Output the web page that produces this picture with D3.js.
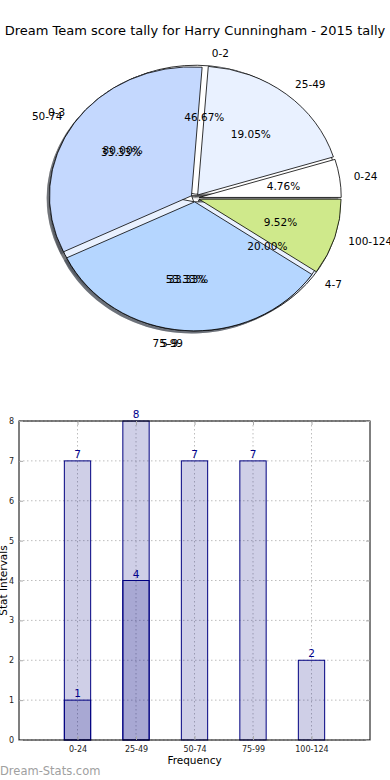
<!DOCTYPE html>
<html>
<head>
<meta charset="utf-8">
<script src="https://cdn.jsdelivr.net/npm/d3@7"></script>
<style>
  body { margin: 0; background: #fff; }
  svg { display: block; font-family: "DejaVu Sans", sans-serif; }
</style>
</head>
<body>
<svg id="chart" width="390" height="780"></svg>
<script>
// score pie (the coloured one on top)
const scoreLabels = ["0-24", "25-49", "50-74", "75-99", "100-124"];
const scoreValues = [1, 4, 7, 7, 2];
// two other pies drawn underneath
const pieBLabels = ["0-2", "5-9"];
const pieBValues = [7, 8];
const pieCLabels = ["0-3", "4-7"];
const pieCValues = [4, 1];
const pieColors = ["#ffffff", "#e9f1ff", "#c4d8fe", "#b5d6ff", "#cfe98b"];

// bar chart
const barCategories = ["0-24", "25-49", "50-74", "75-99", "100-124"];
const barTotals = [7, 8, 7, 7, 2];
const barSubset = [1, 4, 0, 0, 0];
const yTicks = [0, 1, 2, 3, 4, 5, 6, 7, 8];

const svg = d3.select("#chart");

svg.append("text")
  .attr("x", 195).attr("y", 35)
  .attr("text-anchor", "middle")
  .attr("font-size", 13)
  .text("Dream Team score tally for Harry Cunningham - 2015 tally");

//---------------- pies ----------------
const pc = {cx: 195, cy: 198, rx: 142, ry: 129, explode: 0.03};

const pieGen = d3.pie().sort(null)
  .startAngle(Math.PI / 2)
  .endAngle(Math.PI / 2 - 2 * Math.PI);
const arcGen = d3.arc().innerRadius(0).outerRadius(1);

function pieData(labels, values) {
  const total = d3.sum(values);
  return pieGen(values).map((d, i) => {
    const a = (d.startAngle + d.endAngle) / 2;
    return {arc: d, label: labels[i], pct: d.value / total * 100, color: pieColors[i],
      ux: Math.sin(a), uy: -Math.cos(a)};
  });
}

const pies = [pieData(pieCLabels, pieCValues), pieData(pieBLabels, pieBValues), pieData(scoreLabels, scoreValues)];

const shadowG = svg.append("g");
const wedgeG = svg.append("g");
const textG = svg.append("g");

pies.forEach(p => {
  p.forEach(d => {
    const ox = pc.cx + pc.explode * pc.rx * d.ux;
    const oy = pc.cy + pc.explode * pc.ry * d.uy;
    const c = d3.rgb(d.color);
    shadowG.append("path")
      .attr("d", arcGen(d.arc))
      .attr("transform", `translate(${ox - 0.02 * pc.rx},${oy + 0.02 * pc.ry}) scale(${pc.rx},${pc.ry})`)
      .attr("fill", d3.rgb(c.r * 0.3, c.g * 0.3, c.b * 0.3))
      .attr("fill-opacity", 0.5);
  });
});

pies.forEach(p => {
  const g = wedgeG.append("g");
  p.forEach(d => {
    const ox = pc.cx + pc.explode * pc.rx * d.ux;
    const oy = pc.cy + pc.explode * pc.ry * d.uy;
    g.append("path")
      .attr("d", arcGen(d.arc))
      .attr("transform", `translate(${ox},${oy}) scale(${pc.rx},${pc.ry})`)
      .attr("fill", d.color)
      .attr("stroke", "#000")
      .attr("stroke-width", 0.8)
      .attr("vector-effect", "non-scaling-stroke");
  });
});

pies.forEach(p => {
  p.forEach(d => {
    const ox = pc.cx + pc.explode * pc.rx * d.ux;
    const oy = pc.cy + pc.explode * pc.ry * d.uy;
    textG.append("text")
      .attr("x", ox + 1.1 * pc.rx * d.ux)
      .attr("y", oy + 1.1 * pc.ry * d.uy)
      .attr("text-anchor", d.ux > 0 ? "start" : "end")
      .attr("dominant-baseline", "central")
      .attr("font-size", 10.5)
      .text(d.label);
    textG.append("text")
      .attr("x", ox + 0.6 * pc.rx * d.ux)
      .attr("y", oy + 0.6 * pc.ry * d.uy)
      .attr("text-anchor", "middle")
      .attr("dominant-baseline", "central")
      .attr("font-size", 10.5)
      .text(d.pct.toFixed(2) + "%");
  });
});

//---------------- bars ----------------
const plot = {left: 19, right: 370, top: 421, bottom: 740};
const x = d3.scaleLinear().domain([0, barCategories.length + 1]).range([plot.left, plot.right]);
const y = d3.scaleLinear().domain([0, 8]).range([plot.bottom, plot.top]);
const bw = x(0.45) - x(0);

const bars = svg.append("g");

// grid
bars.selectAll(".hgrid").data(yTicks).enter().append("line")
  .attr("x1", plot.left).attr("x2", plot.right)
  .attr("y1", d => y(d)).attr("y2", d => y(d))
  .attr("stroke", "#bdbdbd").attr("stroke-dasharray", "1.5,2.5");
bars.selectAll(".vgrid").data(barCategories).enter().append("line")
  .attr("x1", (d, i) => x(i + 1)).attr("x2", (d, i) => x(i + 1))
  .attr("y1", plot.top).attr("y2", plot.bottom)
  .attr("stroke", "#bdbdbd").attr("stroke-dasharray", "1.5,2.5");

bars.selectAll(".total").data(barTotals).enter().append("rect")
  .attr("x", (d, i) => x(i + 1) - bw / 2)
  .attr("y", d => y(d))
  .attr("width", bw)
  .attr("height", d => y(0) - y(d))
  .attr("fill", "#000080").attr("fill-opacity", 0.19)
  .attr("stroke", "#000080").attr("stroke-width", 1);

const sub = barSubset.map((v, i) => ({v: v, i: i})).filter(d => d.v > 0);
bars.selectAll(".sub").data(sub).enter().append("rect")
  .attr("x", d => x(d.i + 1) - bw / 2)
  .attr("y", d => y(d.v))
  .attr("width", bw)
  .attr("height", d => y(0) - y(d.v))
  .attr("fill", "#000080").attr("fill-opacity", 0.19)
  .attr("stroke", "#000080").attr("stroke-width", 1);

// value labels
bars.selectAll(".lt").data(barTotals).enter().append("text")
  .attr("x", (d, i) => x(i + 1)).attr("y", d => y(d) - 3)
  .attr("text-anchor", "middle").attr("font-size", 10.5).attr("fill", "#00008b")
  .text(d => d);
bars.selectAll(".ls").data(sub).enter().append("text")
  .attr("x", d => x(d.i + 1)).attr("y", d => y(d.v) - 3)
  .attr("text-anchor", "middle").attr("font-size", 10.5).attr("fill", "#00008b")
  .text(d => d.v);

// frame
bars.append("rect")
  .attr("x", plot.left).attr("y", plot.top)
  .attr("width", plot.right - plot.left).attr("height", plot.bottom - plot.top)
  .attr("fill", "none").attr("stroke", "#000").attr("stroke-width", 1);

// axes
const yAxis = d3.axisLeft(y).tickValues(yTicks).tickSize(-4).tickPadding(5).tickFormat(d3.format("d"));
const yAxisEl = bars.append("g").attr("transform", `translate(${plot.left},0)`).call(yAxis);
const yRight = d3.axisRight(y).tickValues(yTicks).tickSize(-4).tickFormat("");
bars.append("g").attr("transform", `translate(${plot.right},0)`).call(yRight);

const xAxis = d3.axisBottom(x).tickValues(barCategories.map((d, i) => i + 1))
  .tickFormat((d, i) => barCategories[i]).tickSize(-4).tickPadding(6);
bars.append("g").attr("transform", `translate(0,${plot.bottom})`).call(xAxis);
const xTop = d3.axisTop(x).tickValues(barCategories.map((d, i) => i + 1)).tickSize(-4).tickFormat("");
bars.append("g").attr("transform", `translate(0,${plot.top})`).call(xTop);

bars.selectAll(".domain").remove();
bars.selectAll(".tick line").attr("stroke", "#aaa");
bars.selectAll(".tick text").attr("font-size", 8).attr("fill", "#222").attr("font-family", "DejaVu Sans");

svg.append("text")
  .attr("x", (plot.left + plot.right) / 2).attr("y", 764)
  .attr("text-anchor", "middle").attr("font-size", 10.5)
  .text("Frequency");
svg.append("text")
  .attr("transform", `translate(7,${(plot.top + plot.bottom) / 2}) rotate(-90)`)
  .attr("text-anchor", "middle").attr("font-size", 10.5)
  .text("Stat Intervals");

svg.append("text")
  .attr("x", 0).attr("y", 775)
  .attr("font-size", 11.5).attr("fill", "#a0a0a0")
  .text("Dream-Stats.com");
</script>
</body>
</html>
